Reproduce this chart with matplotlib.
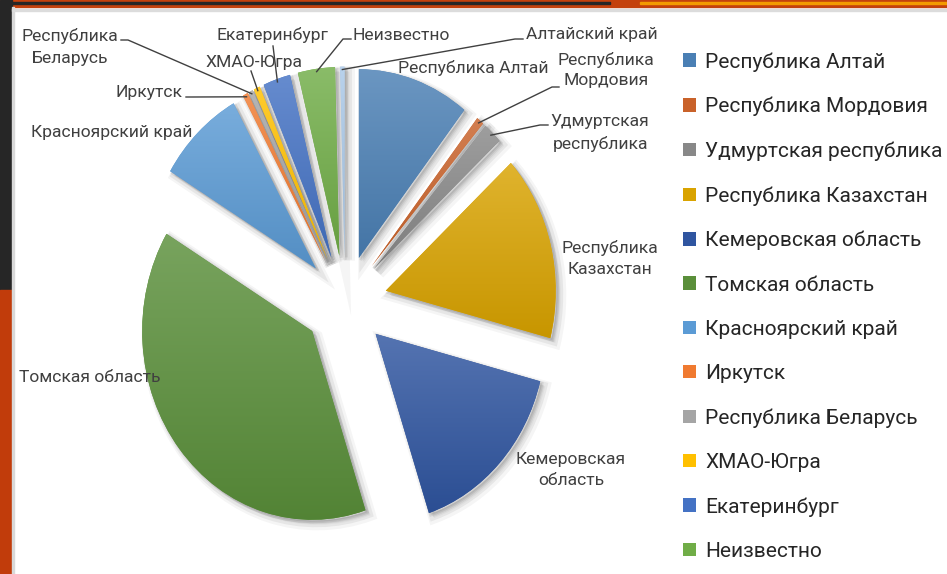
import numpy as np
import matplotlib
matplotlib.use('Agg')
import matplotlib.pyplot as plt
import matplotlib.patches as mpatches
from matplotlib.colors import to_rgb

plt.rcParams['font.family'] = ['Roboto', 'DejaVu Sans']

categories = ['Республика Алтай', 'Республика Мордовия', 'Удмуртская республика',
              'Республика Казахстан', 'Кемеровская область', 'Томская область',
              'Красноярский край', 'Иркутск', 'Республика Беларусь', 'ХМАО-Югра',
              'Екатеринбург', 'Неизвестно', 'Алтайский край']
shares = [10.6, 0.7, 1.8, 15.8, 15.8, 38.5, 8.3, 0.5, 0.4, 0.6, 2.6, 3.5, 0.4]
slice_labels = ['Республика Алтай', 'Республика\nМордовия', 'Удмуртская\nреспублика',
                'Республика\nКазахстан', 'Кемеровская\nобласть', 'Томская область',
                'Красноярский край', 'Иркутск', 'Республика\nБеларусь', 'ХМАО-Югра',
                'Екатеринбург', 'Неизвестно', 'Алтайский край']
colors = ['#4a7fb4', '#c9622a', '#888888', '#d9a300', '#2f55a0', '#5a8f3a',
          '#5b9bd5', '#f07a30', '#a5a5a5', '#ffc000', '#4472c4', '#70ad47', '#a9c8e8']
legend_count = 12

W, H = 947, 574
S = 1.11  # vertical stretch of the pie (chart drawn slightly taller than wide)

fig = plt.figure(figsize=(W / 100, H / 100), dpi=100)
fig.patch.set_facecolor('white')

# decorative frame (screenshot border)
def frect(x, y, w, h, c):
    fig.patches.append(mpatches.Rectangle((x / W, 1 - (y + h) / H), w / W, h / H,
                                          transform=fig.transFigure, color=c, zorder=0))
frect(0, 0, W, 7, '#c4410c')
frect(0, 2, 610, 2, '#262626')
frect(640, 2, 307, 2, '#f39a00')
frect(0, 0, 12, 290, '#262626')
frect(0, 290, 12, H - 290, '#c13c0b')
frect(12, 7, 2, H, '#d9d9d9')
frect(12, 9, W, 2, '#dcdcdc')

# pie axes: x in pixels, y in pixels / S
pax = fig.add_axes([0, 0, 1, 1])
pax.set_facecolor('none')
wedges, _ = pax.pie(shares, explode=[42] * len(shares), center=(345, (H - 302) / S),
                    radius=170, startangle=90, counterclock=False, colors=colors,
                    wedgeprops=dict(linewidth=0))

def lighten(c, f):
    r = np.array(to_rgb(c))
    return r + (1 - r) * f

def darken(c, f):
    return np.array(to_rgb(c)) * (1 - f)

for w, c in zip(wedges, colors):
    for off, lw, a in [(5, 8, 0.04), (4, 5, 0.06), (2, 2, 0.08)]:
        sh = mpatches.Wedge((w.center[0] + off, w.center[1] - off / S), w.r, w.theta1, w.theta2,
                            facecolor='black', edgecolor='black', linewidth=lw, alpha=a,
                            zorder=0.5)
        pax.add_patch(sh)
    w.set_zorder(1)
    ext = w.get_path().get_extents()
    top = lighten(c, 0.18)
    bot = darken(c, 0.08)
    t = np.linspace(0, 1, 64)[:, None]
    grad = (top[None, :] * (1 - t) + bot[None, :] * t)[:, None, :]
    im = pax.imshow(grad, extent=(ext.x0, ext.x1, ext.y0, ext.y1), aspect='auto',
                    origin='upper', zorder=1.5, interpolation='bilinear')
    im.set_clip_path(w)
pax.set_xlim(0, W)
pax.set_ylim(0, H / S)
pax.set_aspect('auto')
pax.axis('off')

# overlay axes in pixel coordinates for labels / leaders / legend
ax = fig.add_axes([0, 0, 1, 1])
ax.set_facecolor('none')

def P(x, y):
    return (x, H - y)

txt_color = '#404040'
label_layout = {
    0: dict(xy=(473, 68)),
    1: dict(xy=(606, 70), leader=[(559, 87), (552, 87)]),
    2: dict(xy=(600, 133), leader=[(548, 125), (540, 125)]),
    3: dict(xy=(610, 258)),
    4: dict(xy=(571, 470)),
    5: dict(xy=(90, 377)),
    6: dict(xy=(112, 133)),
    7: dict(xy=(149, 93), leader=[(186, 97), (192, 97)]),
    8: dict(xy=(70, 47), leader=[(121, 40), (128, 40)]),
    9: dict(xy=(254, 62), leader=[(251, 71)]),
    10: dict(xy=(272, 35), leader=[(273, 46)]),
    11: dict(xy=(401, 35), leader=[(351, 39), (343, 39)]),
    12: dict(xy=(592, 35), leader=[(523, 39), (515, 39)]),
}

for i, w in enumerate(wedges):
    lay = label_layout[i]
    ax.text(*P(*lay['xy']), slice_labels[i], ha='center', va='center', fontsize=12.6,
            color=txt_color, linespacing=1.5, zorder=5)
    if 'leader' in lay:
        th = np.deg2rad((w.theta1 + w.theta2) / 2)
        anchor = (w.center[0] + w.r * 0.985 * np.cos(th),
                  (w.center[1] + w.r * 0.985 * np.sin(th)) * S)
        pts = [P(*p) for p in lay['leader']] + [anchor]
        xs, ys = zip(*pts)
        ax.plot(xs, ys, color='#404040', linewidth=1.0, zorder=4)

leg = ax.legend(handles=wedges[:legend_count], labels=categories[:legend_count],
                loc='upper left', bbox_to_anchor=(683 / W, 1 - 52 / H),
                frameon=False, fontsize=15, handlelength=0.62, handleheight=0.62,
                handletextpad=0.45, labelspacing=1.21, borderpad=0, borderaxespad=0)
for t in leg.get_texts():
    t.set_color('#262626')

ax.set_xlim(0, W)
ax.set_ylim(0, H)
ax.axis('off')

fig.savefig('out.png', dpi=100)
